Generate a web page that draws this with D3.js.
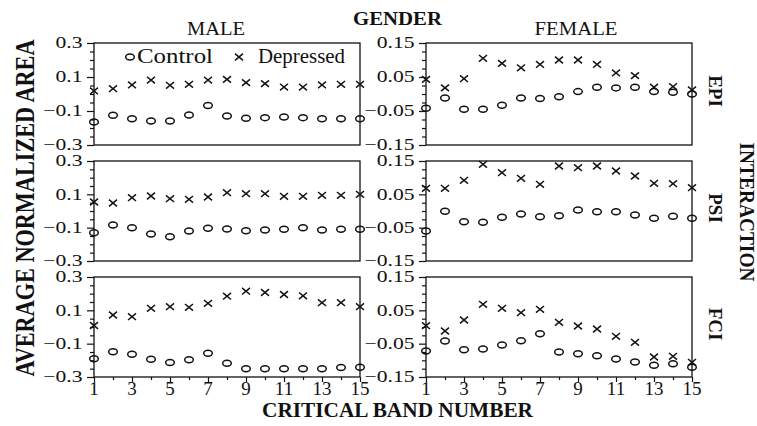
<!DOCTYPE html>
<html>
<head>
<meta charset="utf-8">
<script src="https://cdn.jsdelivr.net/npm/d3@7"></script>
<style>
  body { margin: 0; background: #fff; }
  svg { display: block; }
  text { font-family: "Liberation Serif", "Times New Roman", serif; fill: #111; }
</style>
</head>
<body>
<svg id="chart" width="757" height="426"></svg>
<script>
// data
const bands = [1, 2, 3, 4, 5, 6, 7, 8, 9, 10, 11, 12, 13, 14, 15];
const bandTickLabels = [1, 3, 5, 7, 9, 11, 13, 15];
const bandMinorTicks = [2, 4, 6, 8, 10, 12, 14];
const genders = ['MALE', 'FEMALE'];
const measures = ['EPI', 'PSI', 'FCI'];
const maleTicks = [0.3, 0.1, -0.1, -0.3];
const femaleTicks = [0.15, 0.05, -0.05, -0.15];

const maleEpiControl = [-0.165, -0.125, -0.145, -0.159, -0.159, -0.124, -0.067, -0.129, -0.143, -0.139, -0.135, -0.139, -0.145, -0.145, -0.145];
const maleEpiDepressed = [0.018, 0.031, 0.053, 0.082, 0.051, 0.057, 0.082, 0.086, 0.067, 0.061, 0.041, 0.041, 0.053, 0.057, 0.057];
const femaleEpiControl = [-0.042, -0.012, -0.045, -0.045, -0.033, -0.012, -0.013, -0.008, 0.007, 0.02, 0.018, 0.02, 0.007, 0.005, 0.0];
const femaleEpiDepressed = [0.043, 0.018, 0.045, 0.105, 0.09, 0.077, 0.087, 0.1, 0.1, 0.087, 0.062, 0.054, 0.02, 0.022, 0.012];

const malePsiControl = [-0.13, -0.084, -0.1, -0.138, -0.154, -0.12, -0.104, -0.108, -0.118, -0.114, -0.11, -0.1, -0.114, -0.11, -0.11];
const malePsiDepressed = [0.054, 0.048, 0.08, 0.09, 0.074, 0.07, 0.084, 0.11, 0.104, 0.104, 0.088, 0.088, 0.094, 0.094, 0.1];
const femalePsiControl = [-0.06, -0.001, -0.032, -0.034, -0.019, -0.009, -0.017, -0.014, 0.003, -0.002, -0.002, -0.012, -0.022, -0.016, -0.022];
const femalePsiDepressed = [0.068, 0.068, 0.092, 0.14, 0.115, 0.098, 0.08, 0.135, 0.13, 0.135, 0.12, 0.105, 0.083, 0.082, 0.07];

const maleFciControl = [-0.191, -0.148, -0.164, -0.193, -0.213, -0.197, -0.158, -0.217, -0.251, -0.251, -0.251, -0.251, -0.251, -0.243, -0.241];
const maleFciDepressed = [0.009, 0.072, 0.062, 0.112, 0.122, 0.118, 0.142, 0.185, 0.215, 0.207, 0.195, 0.187, 0.146, 0.146, 0.122];
const femaleFciControl = [-0.072, -0.042, -0.068, -0.066, -0.054, -0.041, -0.02, -0.075, -0.08, -0.086, -0.096, -0.105, -0.115, -0.11, -0.121];
const femaleFciDepressed = [0.004, -0.012, 0.021, 0.068, 0.056, 0.043, 0.053, 0.014, 0.003, -0.006, -0.028, -0.046, -0.09, -0.088, -0.106];

const controlSeries = [
  [maleEpiControl, femaleEpiControl],
  [malePsiControl, femalePsiControl],
  [maleFciControl, femaleFciControl]
];
const depressedSeries = [
  [maleEpiDepressed, femaleEpiDepressed],
  [malePsiDepressed, femalePsiDepressed],
  [maleFciDepressed, femaleFciDepressed]
];

// layout
const colX = [94, 426];
const panelW = 266;
const rowY = [43, 161, 277];
const rowH = [102, 100, 100];
const ink = '#111';

const svg = d3.select('#chart');

// ellipse + cross markers (the figure is a bit wide)
function drawCircle(g, cx, cy) {
  g.append('ellipse')
    .attr('cx', cx).attr('cy', cy)
    .attr('rx', 4.3).attr('ry', 3)
    .attr('fill', 'none').attr('stroke', ink).attr('stroke-width', 1.5);
}
function drawCross(g, cx, cy) {
  g.append('path')
    .attr('d', 'M' + (cx - 4) + ',' + (cy - 3.3) + 'L' + (cx + 4) + ',' + (cy + 3.3) +
               'M' + (cx - 4) + ',' + (cy + 3.3) + 'L' + (cx + 4) + ',' + (cy - 3.3))
    .attr('fill', 'none').attr('stroke', ink).attr('stroke-width', 1.5);
}

measures.forEach(function(measure, r) {
  genders.forEach(function(gender, c) {
    const H = rowH[r];
    const g = svg.append('g').attr('transform', 'translate(' + colX[c] + ',' + rowY[r] + ')');

    const x = d3.scaleLinear().domain([1, 15]).range([0, panelW]);
    const lim = c === 0 ? 0.3 : 0.15;
    const y = d3.scaleLinear().domain([-lim, lim]).range([H, 0]);
    const majors = c === 0 ? maleTicks : femaleTicks;
    const step = (majors[0] - majors[1]) / 4;
    const minors = d3.range(-lim, lim + step / 2, step).filter(function(v) {
      return !majors.some(function(m) { return Math.abs(m - v) < 1e-6; });
    });

    // y axis ticks
    g.append('g')
      .call(d3.axisLeft(y).tickValues(majors).tickSize(7).tickFormat(''))
      .call(function(a) { a.select('.domain').remove(); })
      .selectAll('line').attr('stroke', ink).attr('stroke-width', 1.2);
    g.append('g')
      .call(d3.axisLeft(y).tickValues(minors).tickSize(4).tickFormat(''))
      .call(function(a) { a.select('.domain').remove(); })
      .selectAll('line').attr('stroke', ink).attr('stroke-width', 1.2);

    // y tick labels, stretched like the source
    majors.forEach(function(v) {
      g.append('text')
        .attr('transform', 'translate(-11.5,' + y(v) + ') scale(1.35,1)')
        .attr('text-anchor', 'end')
        .attr('dy', '0.34em')
        .style('font-size', '16px')
        .text(c === 0 ? d3.format('.1f')(v) : d3.format('.2f')(v));
    });

    // x axis only on bottom row
    if (r === 2) {
      g.append('g')
        .attr('transform', 'translate(0,' + H + ')')
        .call(d3.axisBottom(x).tickValues(bandTickLabels).tickSize(5).tickFormat(''))
        .call(function(a) { a.select('.domain').remove(); })
        .selectAll('line').attr('stroke', ink).attr('stroke-width', 1.2);
      g.append('g')
        .attr('transform', 'translate(0,' + H + ')')
        .call(d3.axisBottom(x).tickValues(bandMinorTicks).tickSize(3).tickFormat(''))
        .call(function(a) { a.select('.domain').remove(); })
        .selectAll('line').attr('stroke', ink).attr('stroke-width', 1.2);
      bandTickLabels.forEach(function(b) {
        g.append('text')
          .attr('x', x(b)).attr('y', H + 18)
          .attr('text-anchor', 'middle')
          .style('font-size', '19px')
          .text(b);
      });
    }

    // frame
    g.append('rect')
      .attr('width', panelW).attr('height', H)
      .attr('fill', 'none').attr('stroke', ink).attr('stroke-width', 1.3);

    // points
    const ctrl = controlSeries[r][c];
    const dep = depressedSeries[r][c];
    bands.forEach(function(b, i) {
      drawCircle(g, x(b), y(ctrl[i]));
      drawCross(g, x(b), y(dep[i]));
    });

    // legend in first panel
    if (r === 0 && c === 0) {
      drawCircle(g, 36, 14);
      g.append('text').attr('x', 43).attr('y', 20)
        .attr('textLength', 76).attr('lengthAdjust', 'spacingAndGlyphs')
        .style('font-size', '20px').text('Control');
      drawCross(g, 145, 14);
      g.append('text').attr('x', 164).attr('y', 20)
        .attr('textLength', 87).attr('lengthAdjust', 'spacingAndGlyphs')
        .style('font-size', '20px').text('Depressed');
    }

    // column titles
    if (r === 0) {
      svg.append('text')
        .attr('x', c === 0 ? 216 : 576).attr('y', 35)
        .attr('text-anchor', 'middle')
        .attr('textLength', c === 0 ? 58 : 83).attr('lengthAdjust', 'spacingAndGlyphs')
        .style('font-size', '18px')
        .text(gender);
    }

    // row labels on the right
    if (c === 1) {
      const cy = rowY[r] + H / 2 - 3;
      svg.append('text')
        .attr('transform', 'translate(715,' + cy + ') rotate(90)')
        .attr('text-anchor', 'middle')
        .attr('dy', '0.33em')
        .style('font-size', '19px').style('font-weight', 'bold')
        .text(measure);
    }
  });
});

// overall titles
svg.append('text')
  .attr('x', 397.5).attr('y', 25)
  .attr('text-anchor', 'middle')
  .attr('textLength', 89).attr('lengthAdjust', 'spacingAndGlyphs')
  .style('font-size', '19px').style('font-weight', 'bold')
  .text('GENDER');

svg.append('text')
  .attr('transform', 'translate(747,212) rotate(90)')
  .attr('text-anchor', 'middle')
  .attr('dy', '0.33em')
  .attr('textLength', 139).attr('lengthAdjust', 'spacingAndGlyphs')
  .style('font-size', '20px').style('font-weight', 'bold')
  .text('INTERACTION');

svg.append('text')
  .attr('transform', 'translate(25,208) scale(1.35,1) rotate(-90)')
  .attr('text-anchor', 'middle')
  .attr('dy', '0.33em')
  .attr('textLength', 337).attr('lengthAdjust', 'spacingAndGlyphs')
  .style('font-size', '20px').style('font-weight', 'bold')
  .text('AVERAGE NORMALIZED AREA');

svg.append('text')
  .attr('x', 397.5).attr('y', 417)
  .attr('text-anchor', 'middle')
  .attr('textLength', 271).attr('lengthAdjust', 'spacingAndGlyphs')
  .style('font-size', '20px').style('font-weight', 'bold')
  .text('CRITICAL BAND NUMBER');
</script>
</body>
</html>
